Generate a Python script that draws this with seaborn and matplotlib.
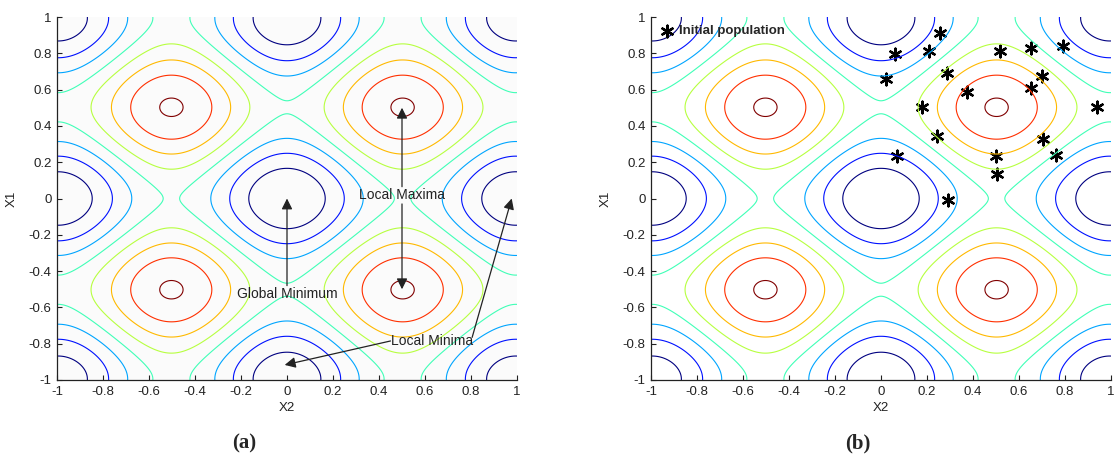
import numpy as np
import matplotlib
matplotlib.use('Agg')
import matplotlib.pyplot as plt
import seaborn as sns

# contour levels of the Rastrigin function, f = 20 + x1^2 + x2^2 - 10cos(2pi x1) - 10cos(2pi x2)
levels = [5, 10, 15, 20, 25, 30, 35, 40]
ticks = [-1, -0.8, -0.6, -0.4, -0.2, 0, 0.2, 0.4, 0.6, 0.8, 1]
tick_labels = ['-1', '-0.8', '-0.6', '-0.4', '-0.2', '0', '0.2', '0.4', '0.6', '0.8', '1']

# initial population
pop_x2 = [0.257, 0.061, 0.210, 0.020, 0.286, 0.372, 0.177, 0.517, 0.652, 0.790,
          0.699, 0.652, 0.938, 0.242, 0.068, 0.706, 0.499, 0.761, 0.503, 0.293]
pop_x1 = [0.910, 0.796, 0.814, 0.657, 0.690, 0.589, 0.502, 0.814, 0.827, 0.840,
          0.675, 0.607, 0.506, 0.344, 0.234, 0.326, 0.234, 0.240, 0.135, -0.008]

sns.set_theme(style='ticks')
plt.rcParams['font.family'] = ['Liberation Sans', 'DejaVu Sans']

g = np.linspace(-1, 1, 401)
X2, X1 = np.meshgrid(g, g)
Z = 20 + X1**2 + X2**2 - 10*np.cos(2*np.pi*X1) - 10*np.cos(2*np.pi*X2)

fig = plt.figure(figsize=(11.14, 4.59), dpi=100)
ax1 = fig.add_axes([57/1114, 79/459, 460/1114, 363/459])
ax2 = fig.add_axes([651/1114, 79/459, 460/1114, 363/459])

for ax in (ax1, ax2):
    ax.contour(X2, X1, Z, levels=levels, cmap='jet', linewidths=0.8)
    ax.set_xlim(-1, 1)
    ax.set_ylim(-1, 1)
    ax.set_xticks(ticks)
    ax.set_xticklabels(tick_labels)
    ax.set_yticks(ticks)
    ax.set_yticklabels(tick_labels)
    ax.tick_params(direction='in', length=3.5, width=0.8, labelsize=9.5,
                   colors='#222222', pad=4)
    for s in ('top', 'right'):
        ax.spines[s].set_visible(False)
    for s in ('left', 'bottom'):
        ax.spines[s].set_color('#222222')
        ax.spines[s].set_linewidth(0.9)
    ax.set_xlabel('X2', fontsize=9.5, color='#222222')
    ax.set_ylabel('X1', fontsize=9.5, color='#222222')
    ax.xaxis.set_label_coords(0.5, -0.06)
    ax.yaxis.set_label_coords(-0.085, 0.5)

ax1.set_facecolor('#fbfbfb')
ax2.set_facecolor('white')

# annotations on panel (a)
arrow = dict(arrowstyle='-|>', color='#222222', lw=0.9, mutation_scale=16, shrinkA=0, shrinkB=0)
txt = dict(fontsize=10, color='#222222', ha='center', va='center')
ax1.text(0.5, 0.02, 'Local Maxima', **txt)
ax1.annotate('', xy=(0.5, 0.5), xytext=(0.5, 0.065), arrowprops=arrow)
ax1.annotate('', xy=(0.5, -0.5), xytext=(0.5, -0.03), arrowprops=arrow)
ax1.text(0, -0.525, 'Global Minimum', **txt)
ax1.annotate('', xy=(0, 0.0), xytext=(0, -0.48), arrowprops=arrow)
ax1.text(0.63, -0.785, 'Local Minima', **txt)
ax1.annotate('', xy=(-0.01, -0.917), xytext=(0.45, -0.785), arrowprops=arrow)
ax1.annotate('', xy=(0.977, 0.0), xytext=(0.805, -0.765), arrowprops=arrow)

# population on panel (b)
sns.scatterplot(x=pop_x2, y=pop_x1, marker=(6, 2, 0), s=70, color='black',
                edgecolor='black', linewidth=1.7, ax=ax2, label='Initial population')
ax2.legend(loc='upper left', frameon=False, prop={'weight': 'bold', 'size': 9.5},
           borderaxespad=0.3, handletextpad=0.3, borderpad=0.3, handlelength=1.2)

fig.text(244/1114, 1 - 443/459, '(a)', ha='center', va='center', fontsize=15,
         fontweight='bold', family='Liberation Serif')
fig.text(858/1114, 1 - 443/459, '(b)', ha='center', va='center', fontsize=15,
         fontweight='bold', family='Liberation Serif')

fig.savefig('out.png', dpi=100)
